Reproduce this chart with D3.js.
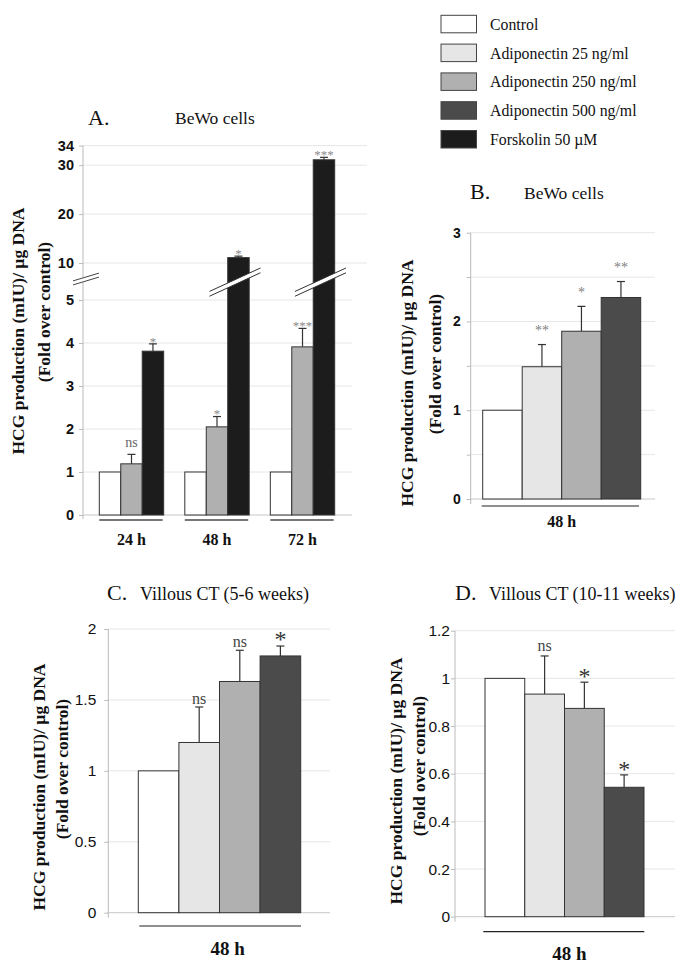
<!DOCTYPE html>
<html><head><meta charset="utf-8">
<script src="https://cdn.jsdelivr.net/npm/d3@7"></script>
<style>body{margin:0;background:#fff} svg{display:block}</style>
</head><body><svg id="c" width="685" height="966"></svg>
<script>
// ---------- data ----------
const series = ["Control","Adiponectin 25 ng/ml","Adiponectin 250 ng/ml","Adiponectin 500 ng/ml","Forskolin 50 \u00b5M"];
const seriesColors = ["#ffffff","#e6e6e6","#b0b0b0","#4b4b4b","#1c1c1c"];

// Panel A (BeWo cells, time course)
const timesA = ["24 h","48 h","72 h"];
const controlA = [1,1,1];
const adipo250A = [1.19,2.05,3.91];
const adipo250ErrA = [0.22,0.24,0.43];
const forskolinA = [3.81,11.1,31.1];
const forskolinErrA = [0.17,0.3,0.5];
const sig250A = ["ns","*","***"];
const sigForskA = ["*","*","***"];
const lowTicksA = [0,1,2,3,4,5];
const highTicksA = [10,20,30,34];

// Panel B (BeWo cells, 48 h)
const valuesB = [1,1.49,1.89,2.27];
const errB = [0,0.25,0.28,0.18];
const sigB = ["","**","*","**"];
const gridTicksB = [0,0.5,1,1.5,2,2.5,3];
const labelTicksB = [0,1,2,3];

// Panel C (Villous CT 5-6 weeks)
const valuesC = [1,1.2,1.63,1.81];
const errC = [0,0.25,0.22,0.07];
const sigC = ["","ns","ns","*"];
const ticksC = [0,0.5,1,1.5,2];

// Panel D (Villous CT 10-11 weeks)
const valuesD = [1,0.934,0.874,0.543];
const errD = [0,0.16,0.11,0.052];
const sigD = ["","ns","*","*"];
const ticksD = [0,0.2,0.4,0.6,0.8,1,1.2];

const yTitle1 = "HCG production (mIU)/ \u00b5g DNA";
const yTitle2 = "(Fold over control)";

// ---------- helpers ----------
const SERIF = "'Liberation Serif','Times New Roman',serif";
const SANS = "'Liberation Sans',Arial,sans-serif";
const svg = d3.select("#c");

function txt(g, x, y, s, fs, opts = {}) {
  return g.append("text").attr("x", x).attr("y", y)
    .attr("font-family", opts.family || SERIF).attr("font-size", fs)
    .attr("font-weight", opts.weight || "normal")
    .attr("text-anchor", opts.anchor || "start")
    .attr("fill", opts.fill || "#111").text(s);
}
function yTitles(g, x1, c1, x2, c2) {
  [[x1, c1, yTitle1], [x2, c2, yTitle2]].forEach(([x, c, s]) => {
    g.append("text").attr("transform", `translate(${x},${c}) rotate(-90)`)
      .attr("text-anchor", "middle").attr("font-family", SERIF)
      .attr("font-weight", "bold").attr("font-size", 17.5).attr("fill", "#111").text(s);
  });
}
function errBar(g, cx, yTop, yErr, half) {
  g.append("line").attr("x1", cx).attr("x2", cx).attr("y1", yTop).attr("y2", yErr)
    .attr("stroke", "#333").attr("stroke-width", 1.2);
  g.append("line").attr("x1", cx - half).attr("x2", cx + half).attr("y1", yErr).attr("y2", yErr)
    .attr("stroke", "#333").attr("stroke-width", 1.2);
}
function sig(g, cx, yErr, label, o) {
  if (!label) return;
  const star = label.startsWith("*");
  const fs = star ? o.fsStar : o.fsNs;
  const center = yErr - (star ? o.gapStar : o.gapNs);
  const base = center + (star ? 0.52 : 0.23) * fs;
  txt(g, cx, base, label, fs, {anchor: "middle", fill: star ? o.colStar : o.colNs});
}

// ---------- legend ----------
(function legend() {
  const g = svg.append("g");
  const row = d3.scaleBand().domain(series).range([15.3, 15.3 + 5 * 28.8]);
  series.forEach((s, i) => {
    g.append("rect").attr("x", 441).attr("y", row(s)).attr("width", 35.5).attr("height", 17.5)
      .attr("fill", seriesColors[i]).attr("stroke", "#444").attr("stroke-width", 1);
    txt(g, 490, row(s) + 14.5, s, 15.8);
  });
})();

// ---------- Panel A ----------
(function panelA() {
  const g = svg.append("g");
  const axisX = 83;
  const yLow = d3.scaleLinear().domain([0, 5]).range([515, 300]);
  const yHigh = d3.scaleLinear().domain([10, 34]).range([263, 145.6]);
  const yv = v => v <= 5 ? yLow(v) : yHigh(v);

  txt(g, 88, 125, "A.", 22);
  txt(g, 175, 124, "BeWo cells", 17.5);

  // grid
  g.selectAll(".gl").data(lowTicksA).join("line").attr("x1", axisX).attr("x2", 352)
    .attr("y1", d => yLow(d)).attr("y2", d => yLow(d)).attr("stroke", d => d === 0 ? "#c8c8c8" : "#e6e6e6");
  g.selectAll(".gh").data(highTicksA).join("line").attr("x1", axisX).attr("x2", 367)
    .attr("y1", d => yHigh(d)).attr("y2", d => yHigh(d)).attr("stroke", "#e6e6e6");

  // axes
  [[yLow, lowTicksA], [yHigh, highTicksA]].forEach(([sc, tv]) => {
    const a = g.append("g").attr("transform", `translate(${axisX},0)`)
      .call(d3.axisLeft(sc).tickValues(tv).tickSize(4).tickSizeOuter(0).tickFormat(d3.format("d")));
    a.select(".domain").remove();
    a.selectAll(".tick line").attr("stroke", "#bbb");
    a.selectAll(".tick text").attr("font-family", SANS).attr("font-size", 14.5)
      .attr("font-weight", "bold").attr("fill", "#111").attr("x", -9);
  });
  g.append("line").attr("x1", axisX).attr("x2", axisX).attr("y1", yHigh(34)).attr("y2", 519).attr("stroke", "#bbb");

  // bars
  const xg = d3.scaleBand().domain(timesA).range([99.3, 334.7]).paddingInner(0.247).paddingOuter(0);
  const xs = d3.scaleBand().domain([0, 1, 2]).range([0, xg.bandwidth()]);
  const cols = [seriesColors[0], seriesColors[2], seriesColors[4]];
  const sigStyle = {fsStar: 13, fsNs: 14, gapStar: 5, gapNs: 11, colStar: "#8a8a8a", colNs: "#666"};
  timesA.forEach((t, i) => {
    const vals = [controlA[i], adipo250A[i], forskolinA[i]];
    const errs = [0, adipo250ErrA[i], forskolinErrA[i]];
    const sigs = ["", sig250A[i], sigForskA[i]];
    vals.forEach((v, j) => {
      const x0 = xg(t) + xs(j), w = xs.bandwidth(), cx = x0 + w / 2;
      if (errs[j] > 0) errBar(g, cx, yv(v), yv(v + errs[j]), 4);
      g.append("rect").attr("x", x0).attr("y", yv(v)).attr("width", w).attr("height", yLow(0) - yv(v))
        .attr("fill", cols[j]).attr("stroke", "#333").attr("stroke-width", 1);
      sig(g, cx, yv(v + errs[j]), sigs[j], sigStyle);
      if (v > 5) {
        const mid = (yLow(5) + yHigh(10)) / 2 - 1;
        const xa = cx - 29, xb = cx + 22, s = -0.46;
        const yy = (x, off) => mid + s * (x - cx) + off;
        g.append("polygon").attr("points", [[xa, yy(xa, -2.4)], [xb, yy(xb, -2.4)], [xb, yy(xb, 2.4)], [xa, yy(xa, 2.4)]].map(p => p.join(",")).join(" "))
          .attr("fill", "#fff");
        [-2.4, 2.4].forEach(off => g.append("line").attr("x1", xa).attr("x2", xb)
          .attr("y1", yy(xa, off)).attr("y2", yy(xb, off)).attr("stroke", "#333").attr("stroke-width", 1));
      }
    });
    // group underline + label
    g.append("line").attr("x1", xg(t)).attr("x2", xg(t) + xg.bandwidth() - 1).attr("y1", 520).attr("y2", 520)
      .attr("stroke", "#777").attr("stroke-width", 2);
    txt(g, xg(t) + xg.bandwidth() / 2, 545, t, 16, {anchor: "middle", weight: "bold"});
  });
  // axis break mark
  const bx = 86, by = 279, bs = -0.3;
  g.append("polygon").attr("points", [[73, by + bs * (73 - bx) - 2], [99, by + bs * (99 - bx) - 2], [99, by + bs * (99 - bx) + 2], [73, by + bs * (73 - bx) + 2]].map(p => p.join(",")).join(" ")).attr("fill", "#fff");
  [-2, 2].forEach(off => g.append("line").attr("x1", 73).attr("x2", 99)
    .attr("y1", by + bs * (73 - bx) + off).attr("y2", by + bs * (99 - bx) + off).attr("stroke", "#444"));

  yTitles(g, 24, 331, 50, 312);
})();

// ---------- generic 4-bar panel ----------
function panel(o) {
  const g = svg.append("g");
  const y = d3.scaleLinear().domain(o.domain).range([o.y0, o.y1]);
  const x = d3.scaleBand().domain(d3.range(o.values.length)).range([o.xb0, o.xb1]);
  txt(g, o.letterX, o.titleY, o.letter, 22);
  txt(g, o.titleX, o.titleY, o.title, o.titleFs);
  g.selectAll(".grid").data(o.gridTicks).join("line").attr("x1", o.axisX).attr("x2", o.gridEnd)
    .attr("y1", d => y(d)).attr("y2", d => y(d)).attr("stroke", d => d === 0 ? "#c8c8c8" : "#e6e6e6");
  const a = g.append("g").attr("transform", `translate(${o.axisX},0)`)
    .call(d3.axisLeft(y).tickValues(o.gridTicks).tickSize(4).tickSizeOuter(0)
      .tickFormat(d => o.labelTicks.includes(d) ? String(d) : ""));
  a.select(".domain").remove();
  a.selectAll(".tick line").attr("stroke", "#bbb");
  a.selectAll(".tick text").attr("font-family", SANS).attr("font-size", o.tickFs)
    .attr("font-weight", o.tickWeight).attr("fill", "#111").attr("x", -o.tickGap);
  g.append("line").attr("x1", o.axisX).attr("x2", o.axisX).attr("y1", o.y1).attr("y2", o.y0 + 5).attr("stroke", "#bbb");
  o.values.forEach((v, i) => {
    const x0 = x(i), w = x.bandwidth(), cx = x0 + w / 2;
    if (o.errs[i] > 0) errBar(g, cx, y(v), y(v + o.errs[i]), 4);
    g.append("rect").attr("x", x0).attr("y", y(v)).attr("width", w).attr("height", y(0) - y(v))
      .attr("fill", seriesColors[i]).attr("stroke", "#333").attr("stroke-width", 1);
    sig(g, cx, y(v + o.errs[i]), o.sigs[i], o.sigStyle);
  });
  g.append("line").attr("x1", o.ul[0]).attr("x2", o.ul[1]).attr("y1", o.ulY).attr("y2", o.ulY).attr("stroke", "#222").attr("stroke-width", 1.2);
  txt(g, o.glX, o.glY, "48 h", o.glFs, {anchor: "middle", weight: "bold"});
  yTitles(g, o.t1x, o.t1c, o.t2x, o.t2c);
}

panel({
  letter: "B.", letterX: 470, title: "BeWo cells", titleX: 524, titleY: 199, titleFs: 17.5,
  domain: [0, 3], y0: 499, y1: 232.7, axisX: 470.7, gridEnd: 655, xb0: 482.7, xb1: 640.7,
  gridTicks: gridTicksB, labelTicks: labelTicksB, tickFs: 14, tickWeight: "bold", tickGap: 10,
  values: valuesB, errs: errB, sigs: sigB,
  sigStyle: {fsStar: 14, fsNs: 14, gapStar: 17, gapNs: 17, colStar: "#808080", colNs: "#808080"},
  ul: [481.7, 639], ulY: 506, glX: 561.7, glY: 527, glFs: 16,
  t1x: 413, t1c: 383, t2x: 441, t2c: 364
});

panel({
  letter: "C.", letterX: 107, title: "Villous CT (5-6 weeks)", titleX: 140, titleY: 600, titleFs: 18,
  domain: [0, 2], y0: 912.7, y1: 629, axisX: 108.3, gridEnd: 330, xb0: 138.3, xb1: 300.7,
  gridTicks: ticksC, labelTicks: ticksC, tickFs: 15.5, tickWeight: "normal", tickGap: 12,
  values: valuesC, errs: errC, sigs: sigC,
  sigStyle: {fsStar: 24, fsNs: 16, gapStar: 11.7, gapNs: 7, colStar: "#333", colNs: "#444"},
  ul: [139.3, 301], ulY: 926, glX: 227.7, glY: 955, glFs: 19,
  t1x: 45, t1c: 787, t2x: 68, t2c: 769
});

panel({
  letter: "D.", letterX: 455, title: "Villous CT (10-11 weeks)", titleX: 489, titleY: 600, titleFs: 18,
  domain: [0, 1.2], y0: 916.7, y1: 630.7, axisX: 455, gridEnd: 675, xb0: 485, xb1: 644,
  gridTicks: ticksD, labelTicks: ticksD, tickFs: 15.5, tickWeight: "normal", tickGap: 5,
  values: valuesD, errs: errD, sigs: sigD,
  sigStyle: {fsStar: 24, fsNs: 16, gapStar: 10.5, gapNs: 9, colStar: "#333", colNs: "#444"},
  ul: [483.3, 644.3], ulY: 931.7, glX: 569.3, glY: 960, glFs: 19,
  t1x: 401.5, t1c: 781, t2x: 425, t2c: 766
});
</script></body></html>
